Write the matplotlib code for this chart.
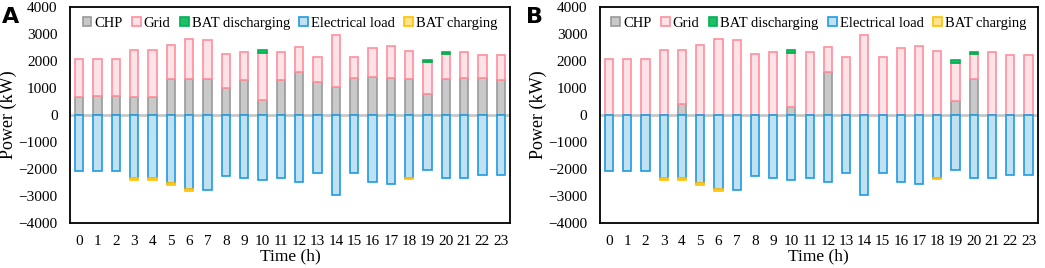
import matplotlib
matplotlib.use("Agg")
import matplotlib.pyplot as plt
import numpy as np
from matplotlib.patches import Patch

hours = [str(h) for h in range(24)]

# Panel A
chp_a = [680, 700, 710, 680, 660, 1320, 1320, 1330, 1000, 1300, 550, 1310,
         1580, 1220, 1050, 1370, 1400, 1370, 1330, 760, 1350, 1370, 1370, 1300]
grid_a = [1400, 1380, 1370, 1710, 1730, 1280, 1510, 1460, 1270, 1030, 1740, 1010,
          920, 940, 1900, 790, 1090, 1190, 1040, 1190, 900, 950, 860, 920]
dis_a = [0, 0, 0, 0, 0, 0, 0, 0, 0, 0, 100, 0,
         0, 0, 0, 0, 0, 0, 0, 90, 100, 0, 0, 0]

# Panel B
chp_b = [0, 0, 0, 0, 400, 0, 0, 0, 0, 0, 290, 0,
         1590, 0, 0, 0, 0, 0, 0, 535, 1330, 0, 0, 0]
grid_b = [2080, 2080, 2080, 2390, 1990, 2600, 2830, 2790, 2270, 2330, 2010, 2320,
          910, 2160, 2950, 2160, 2490, 2560, 2370, 1405, 910, 2320, 2230, 2220]
dis_b = [0, 0, 0, 0, 0, 0, 0, 0, 0, 0, 90, 0,
         0, 0, 0, 0, 0, 0, 0, 100, 95, 0, 0, 0]

# Shared negative side
load = [2080, 2080, 2080, 2330, 2320, 2520, 2750, 2790, 2270, 2330, 2390, 2320,
        2500, 2160, 2950, 2160, 2490, 2560, 2330, 2030, 2330, 2320, 2230, 2220]
charge = [0, 0, 0, 60, 70, 80, 80, 0, 0, 0, 0, 0,
          0, 0, 0, 0, 0, 0, 40, 0, 0, 0, 0, 0]

labels = ["CHP", "Grid", "BAT discharging", "Electrical load", "BAT charging"]
fills = ["#c9c9c9", "#fde2e8", "#1fbf6a", "#bfe1f2", "#ffe48a"]
edges = ["#9a9a9a", "#ff8f9c", "#00b050", "#1f9be0", "#ffc000"]

serif = ["Liberation Serif", "DejaVu Serif"]
plt.rcParams["font.family"] = serif

fig = plt.figure(figsize=(10.45, 2.68), dpi=100)
axA = fig.add_axes([0.067, 0.168, 0.421, 0.806])
axB = fig.add_axes([0.574, 0.168, 0.419, 0.806])


def stacked(ax, x, h, bottom, w, k):
    m = h != 0
    ax.bar(x[m], h[m], w, bottom=bottom[m], color=fills[k], edgecolor=edges[k],
           lw=1.2, zorder=2)


def draw(ax, chp, grid, dis, letter, lx):
    x = np.arange(len(hours))
    w = 0.45
    chp = np.array(chp, float); grid = np.array(grid, float); dis = np.array(dis, float)
    ld = np.array(load, float); ch = np.array(charge, float)
    zero = np.zeros_like(chp)
    ax.axhline(0, color="#c8c8c8", lw=2, zorder=1)
    stacked(ax, x, chp, zero, w, 0)
    stacked(ax, x, grid, chp, w, 1)
    stacked(ax, x, dis, chp + grid, w, 2)
    stacked(ax, x, -ld, zero, w, 3)
    stacked(ax, x, -ch, -ld, w, 4)
    ax.set_xlim(-0.5, 23.5)
    ax.set_ylim(-4000, 4000)
    ax.set_yticks(range(-4000, 4001, 1000))
    ax.set_xticks(x)
    ax.set_xticklabels(hours)
    ax.tick_params(axis="both", length=0, labelsize=11)
    ax.tick_params(axis="y", pad=9)
    ax.tick_params(axis="x", pad=9)
    for s in ax.spines.values():
        s.set_linewidth(1.3)
        s.set_color("black")
    ax.set_xlabel("Time (h)", fontsize=12.5, labelpad=0)
    ax.set_ylabel("Power (kW)", fontsize=13)
    ax.yaxis.set_label_coords(-0.12, 0.5)
    handles = [Patch(facecolor=f, edgecolor=e, lw=1.2) for f, e in zip(fills, edges)]
    ax.legend(handles, labels, ncol=5, loc="upper center", bbox_to_anchor=(0.5, 0.995),
              frameon=False, fontsize=10.5, handlelength=0.6, handleheight=0.6,
              handletextpad=0.2, columnspacing=0.65, borderaxespad=0.2)
    fig.text(lx, 0.975, letter, fontsize=16, fontweight="bold",
             family="DejaVu Sans", va="top", ha="left")


draw(axA, chp_a, grid_a, dis_a, "A", 0.002)
draw(axB, chp_b, grid_b, dis_b, "B", 0.503)

fig.savefig("out.png", dpi=100)
